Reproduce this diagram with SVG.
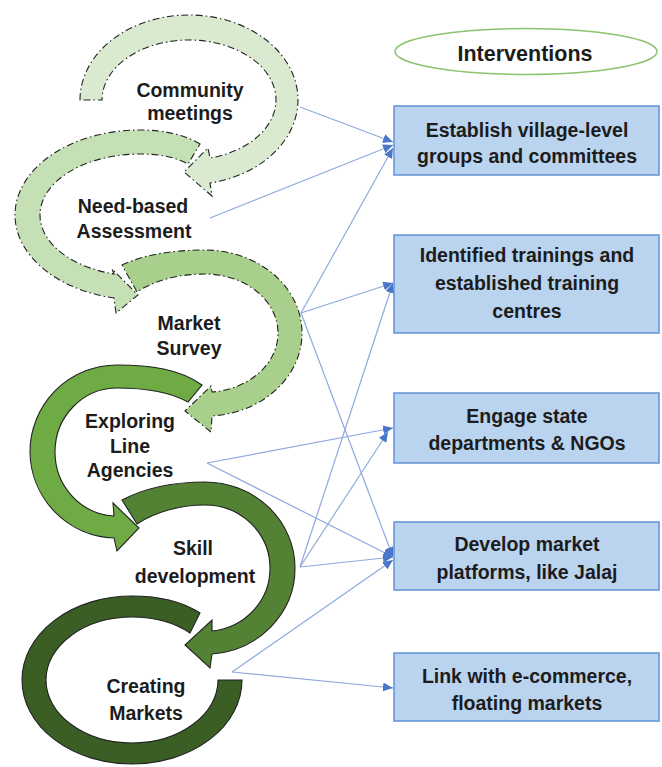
<svg xmlns="http://www.w3.org/2000/svg" width="662" height="767" viewBox="0 0 662 767">
<defs>
<style>
.lbl{font-family:"Liberation Sans",Arial,sans-serif;font-weight:bold;font-size:19.5px;fill:#1c1c1c;text-anchor:middle}
.ring{stroke:#222;stroke-width:1.1}
.lt{stroke-dasharray:7 3 1.5 3}
.box{fill:#bad3ee;stroke:#6a98d8;stroke-width:1.6}
.con{fill:none;stroke:#8eaade;stroke-width:1.2;marker-end:url(#ah)}
</style>
<marker id="ah" markerUnits="userSpaceOnUse" markerWidth="10" markerHeight="9" refX="10" refY="4.5" orient="auto">
<path d="M0,0 L10,4.5 L0,9 z" fill="#4a76c8"/>
</marker>
</defs>
<rect width="662" height="767" fill="#ffffff"/>

<g id="connectors">
<line class="con" x1="300" y1="107" x2="393" y2="142"/>
<line class="con" x1="210" y1="218" x2="393" y2="145"/>
<line class="con" x1="301" y1="313" x2="393" y2="148"/>
<line class="con" x1="301" y1="313" x2="393" y2="283"/>
<line class="con" x1="301" y1="313" x2="393" y2="557"/>
<line class="con" x1="207" y1="463" x2="393" y2="428"/>
<line class="con" x1="207" y1="463" x2="393" y2="557"/>
<line class="con" x1="300" y1="567" x2="393" y2="283"/>
<line class="con" x1="300" y1="567" x2="388" y2="432"/>
<line class="con" x1="300" y1="567" x2="393" y2="557"/>
<line class="con" x1="232" y1="672" x2="393" y2="560"/>
<line class="con" x1="232" y1="672" x2="393" y2="688"/>
</g>

<g id="ring6">
<path class="ring" fill="#3b5e25" d="M200,613 C180,600 158,596 132,596 A110,84 0 0 0 22,680 A110,84 0 0 0 132,764 A110,84 0 0 0 242,680 L218,680 A86,63 0 0 1 132,743 A86,63 0 0 1 46,680 A86,63 0 0 1 132,617 C155,617 175,623 190,633 Z"/>
<text class="lbl" x="146" y="693">Creating</text>
<text class="lbl" x="146" y="720">Markets</text>
</g>

<g id="ring5">
<path class="ring" fill="#548235" d="M122,500 C145,488 175,482 205,482 A90,86 0 0 1 295,568 A90,86 0 0 1 212,654 L210,668 L185,645 L212,620 L212,631 A65,63 0 0 0 270,568 A65,63 0 0 0 205,505 C180,505 155,512 137,524 Z"/>
<text class="lbl" x="193" y="555">Skill</text>
<text class="lbl" x="195" y="583">development</text>
</g>

<g id="ring4">
<path class="ring" fill="#6eab45" d="M202,385 C180,369 150,365 117,365 A87,87 0 0 0 30,452 A87,87 0 0 0 114,538 L117,551 L139,528 L113,503 L114,516 A62,64 0 0 1 55,452 A62,64 0 0 1 117,388 C145,388 170,392 188,402 Z"/>
<text class="lbl" x="130" y="428">Exploring</text>
<text class="lbl" x="130" y="453">Line</text>
<text class="lbl" x="130" y="477">Agencies</text>
</g>

<g id="ring3">
<path class="ring lt" fill="#a8d08c" d="M122,265 C145,254 175,250 205,250 A97,83 0 0 1 302,333 A97,83 0 0 1 212,416 L211,432 L185,411 L211,386 L212,392 A73,59 0 0 0 278,333 A73,59 0 0 0 205,274 C180,274 155,280 137,292 Z"/>
<text class="lbl" x="189" y="330">Market</text>
<text class="lbl" x="189" y="355">Survey</text>
</g>

<g id="ring2">
<path class="ring lt" fill="#c5e0b4" d="M200,144 C185,135 165,130 140,130 A125,85 0 0 0 15,215 A125,85 0 0 0 114,298 L116,313 L138,295 L112,269 L114,274 A100,61 0 0 1 40,215 A100,61 0 0 1 140,154 C160,154 175,157 188,164 Z"/>
<text class="lbl" x="133" y="213">Need-based</text>
<text class="lbl" x="134" y="238">Assessment</text>
</g>

<g id="ring1">
<path class="ring lt" fill="#d9ead0" d="M80,100 A109,85 0 0 1 189,15 A109,85 0 0 1 298,100 A109,85 0 0 1 210,183 L212,196 L184,172 L208,148 L210,158 A87,60 0 0 0 276,100 A87,60 0 0 0 189,40 A87,60 0 0 0 102,100 Z"/>
<text class="lbl" x="190" y="97">Community</text>
<text class="lbl" x="190" y="120">meetings</text>
</g>

<g id="interventions">
<ellipse cx="526" cy="51.5" rx="131" ry="23" fill="#ffffff" stroke="#8cc36e" stroke-width="1.5"/>
<text class="lbl" x="525" y="61" style="font-size:21.5px">Interventions</text>
</g>

<g id="box1">
<rect class="box" x="394" y="106" width="265" height="69"/>
<text class="lbl" x="527" y="137">Establish village-level</text>
<text class="lbl" x="527" y="163">groups and committees</text>
</g>

<g id="box2">
<rect class="box" x="394" y="235" width="265" height="98"/>
<text class="lbl" x="527" y="262">Identified trainings and</text>
<text class="lbl" x="527" y="290">established training</text>
<text class="lbl" x="527" y="318">centres</text>
</g>

<g id="box3">
<rect class="box" x="394" y="393" width="265" height="70"/>
<text class="lbl" x="527" y="423">Engage state</text>
<text class="lbl" x="527" y="450">departments &amp; NGOs</text>
</g>

<g id="box4">
<rect class="box" x="394" y="522" width="265" height="68"/>
<text class="lbl" x="527" y="551">Develop market</text>
<text class="lbl" x="527" y="579">platforms, like Jalaj</text>
</g>

<g id="box5">
<rect class="box" x="394" y="653" width="265" height="68"/>
<text class="lbl" x="527" y="683">Link with e-commerce,</text>
<text class="lbl" x="527" y="710">floating markets</text>
</g>
</svg>
